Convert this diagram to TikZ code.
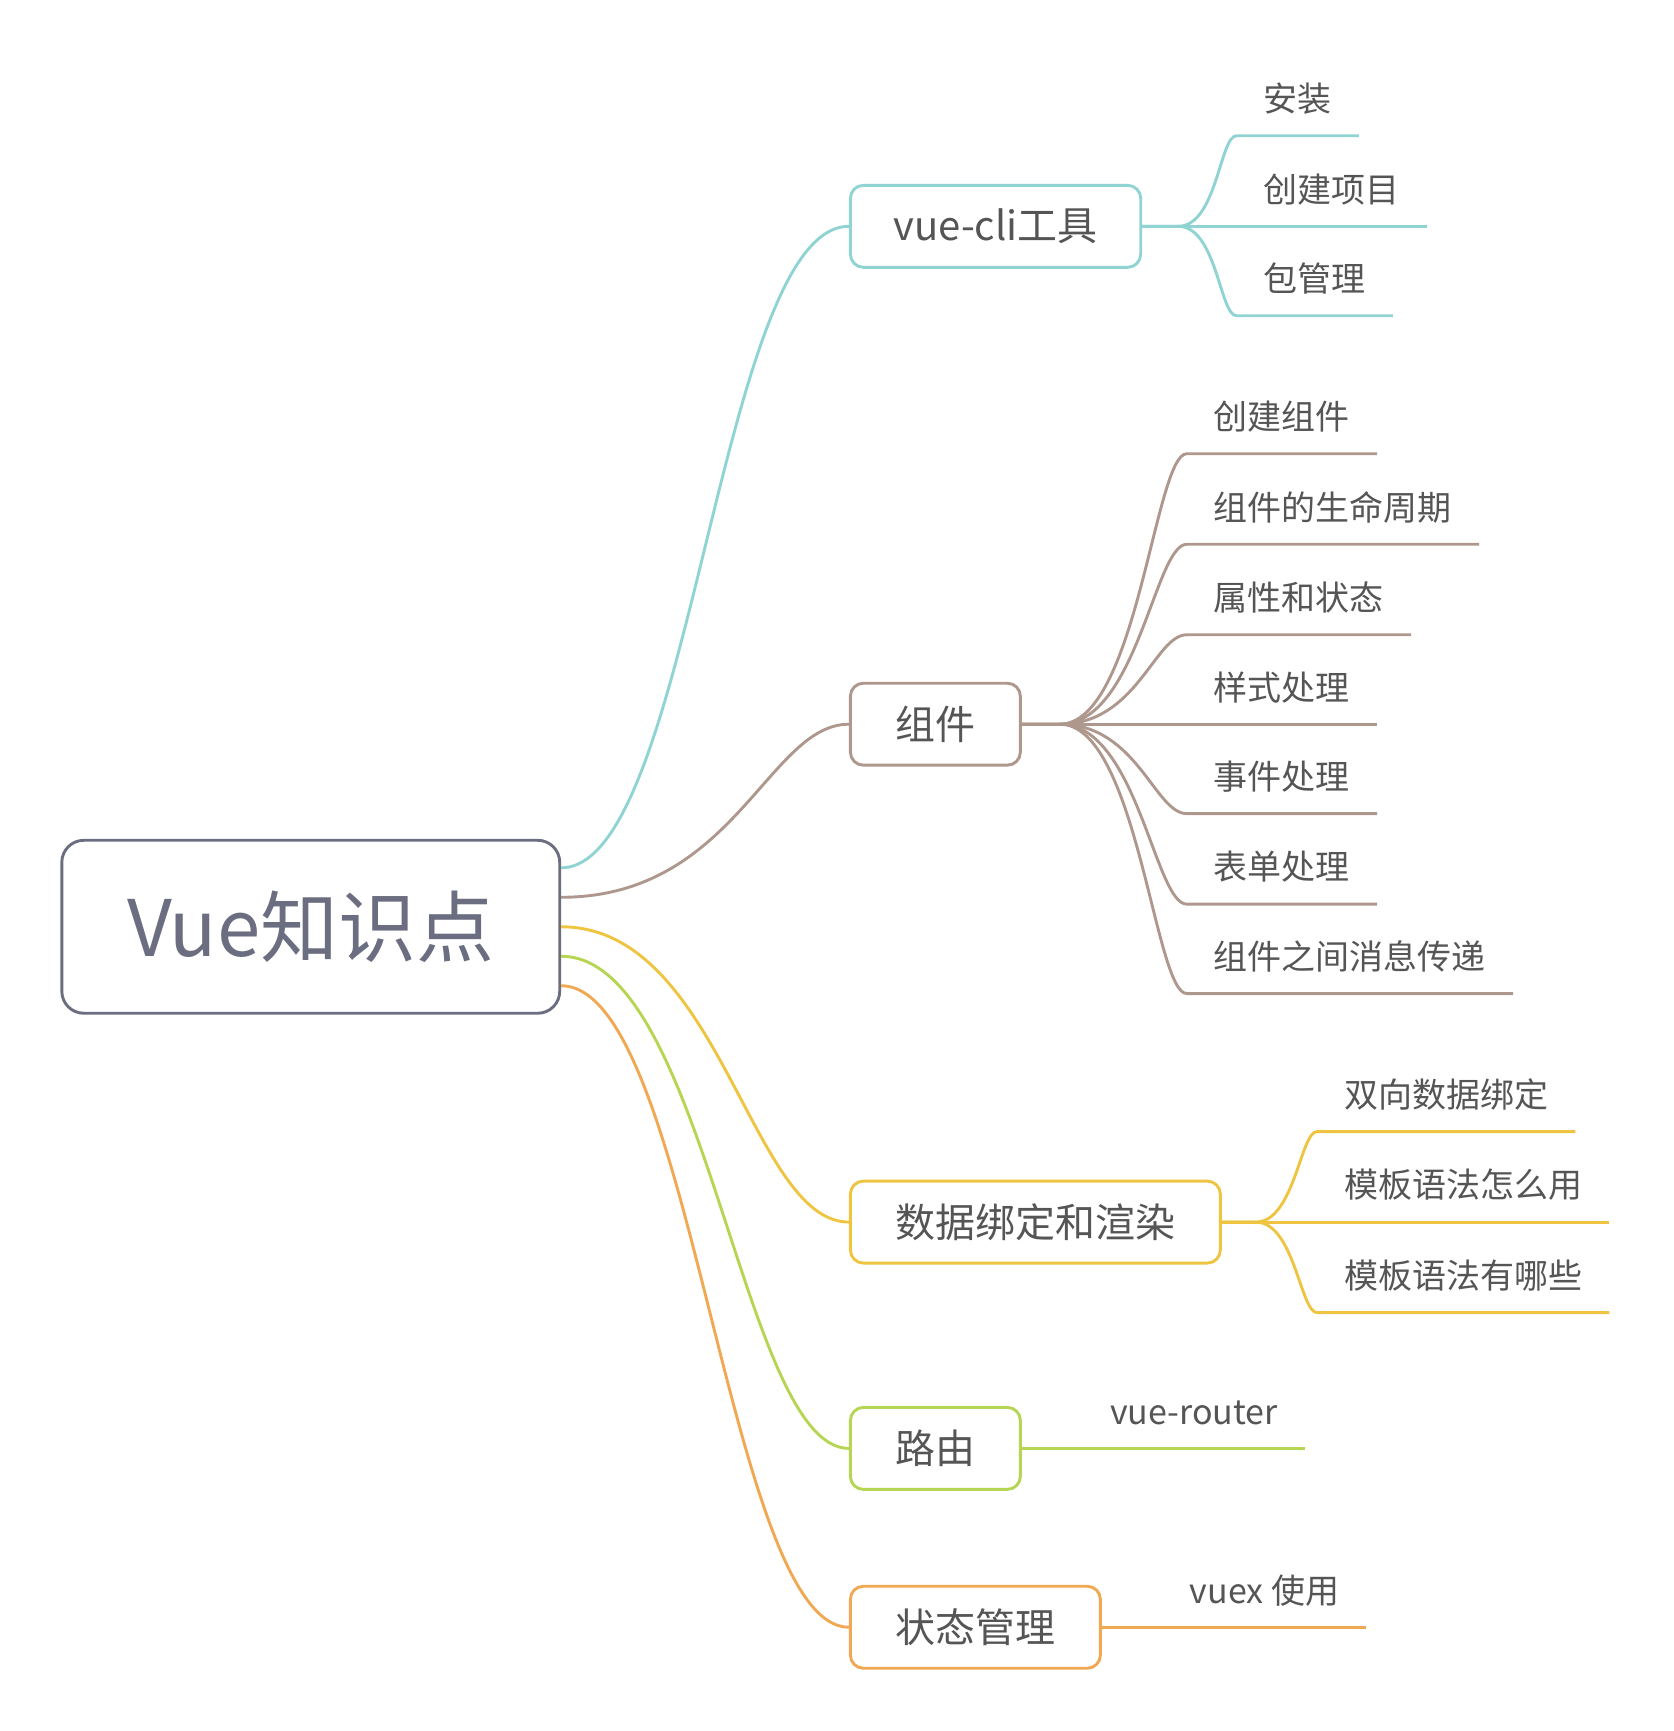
\documentclass[tikz,border=0pt]{standalone}
\usepackage{fontspec}
\setmainfont{Noto Sans CJK SC}
\usetikzlibrary{positioning}

\definecolor{rootgray}{HTML}{6B6E80}
\definecolor{txtgray}{HTML}{555555}
\definecolor{cyanline}{HTML}{8FD3D3}
\definecolor{brownline}{HTML}{AE978D}
\definecolor{yellowline}{HTML}{EEC441}
\definecolor{greenline}{HTML}{B5D553}
\definecolor{orangeline}{HTML}{F0A853}

\tikzset{
  rootbox/.style={draw=rootgray, line width=2.9pt, rounded corners=22pt,
    minimum width=498pt, minimum height=173pt, text=rootgray,
    font=\fontsize{78}{90}\selectfont},
  topic/.style={draw=#1, line width=2.9pt, rounded corners=13pt, fill=white,
    inner xsep=43pt, inner ysep=0pt, minimum height=82pt, text=txtgray,
    font=\fontsize{40}{48}\selectfont},
  leaf/.style={anchor=south west, inner xsep=27pt, inner ysep=0pt,
    text height=30pt, text depth=24pt, text=txtgray,
    font=\fontsize{34}{40}\selectfont},
  link/.style={draw=#1, line width=2.9pt},
}

\begin{document}
\begin{tikzpicture}[x=1.1042pt,y=-1.1042pt]

\useasboundingbox (0,0) rectangle (1516,1568);

% centre
\node[rootbox] (root) at (281.5,839.5) {Vue知识点};

% main topics
\node[topic=cyanline, anchor=west] (cli) at (769,205) {vue-cli工具};
\node[topic=brownline, anchor=west, minimum width=170pt] (comp) at (769,656) {组件};
\node[topic=yellowline, anchor=west, minimum width=370pt] (bind) at (769,1107) {数据绑定和渲染};
\node[topic=greenline, anchor=west, minimum width=170pt] (route) at (769,1312) {路由};
\node[topic=orangeline, anchor=west, minimum width=250pt] (state) at (769,1474) {状态管理};

\coordinate (clifork) at ([xshift=36pt]cli.east);
\coordinate (compfork) at ([xshift=38pt]comp.east);
\coordinate (bindfork) at ([xshift=34pt]bind.east);

% subtopics
\node[leaf] (install) at (1120,123) {安装};
\node[leaf] (newproj) at (1120,205) {创建项目};
\node[leaf] (pkg) at (1120,286) {包管理};

\node[leaf] (mkcomp) at (1075,411) {创建组件};
\node[leaf] (life) at (1075,493) {组件的生命周期};
\node[leaf] (props) at (1075,575) {属性和状态};
\node[leaf] (styles) at (1075,656) {样式处理};
\node[leaf] (events) at (1075,737) {事件处理};
\node[leaf] (forms) at (1075,819) {表单处理};
\node[leaf] (msgs) at (1075,900) {组件之间消息传递};

\node[leaf] (twoway) at (1193,1025) {双向数据绑定};
\node[leaf] (tplhow) at (1193,1107) {模板语法怎么用};
\node[leaf] (tplwhat) at (1193,1189) {模板语法有哪些};

\node[leaf] (router) at (981,1312) {vue-router};
\node[leaf] (vuex) at (1053,1474) {vuex 使用};

% centre to topics
\draw[link=cyanline] ([yshift=59pt]root.east) .. controls +(118,0) and +(-118,0) .. (cli.west);
\draw[link=brownline] ([yshift=29.5pt]root.east) .. controls +(157,0) and +(-73,0) .. (comp.west);
\draw[link=yellowline] (root.east) .. controls +(144,0) and +(-89,0) .. (bind.west);
\draw[link=greenline] ([yshift=-29.5pt]root.east) .. controls +(131,0) and +(-97,0) .. (route.west);
\draw[link=orangeline] ([yshift=-59pt]root.east) .. controls +(118,0) and +(-110,0) .. (state.west);

% topics to subtopics
\draw[link=cyanline] (cli.east) -- (clifork) .. controls +(35,0) and +(-15,0) .. (install.south west) -- (install.south east);
\draw[link=cyanline] (cli.east) -- (clifork) -- (newproj.south west) -- (newproj.south east);
\draw[link=cyanline] (cli.east) -- (clifork) .. controls +(35,0) and +(-15,0) .. (pkg.south west) -- (pkg.south east);

\draw[link=brownline] (comp.east) -- (compfork) .. controls +(70,0) and +(-29,0) .. (mkcomp.south west) -- (mkcomp.south east);
\draw[link=brownline] (comp.east) -- (compfork) .. controls +(70,0) and +(-29,0) .. (life.south west) -- (life.south east);
\draw[link=brownline] (comp.east) -- (compfork) .. controls +(70,0) and +(-29,0) .. (props.south west) -- (props.south east);
\draw[link=brownline] (comp.east) -- (compfork) -- (styles.south west) -- (styles.south east);
\draw[link=brownline] (comp.east) -- (compfork) .. controls +(70,0) and +(-29,0) .. (events.south west) -- (events.south east);
\draw[link=brownline] (comp.east) -- (compfork) .. controls +(70,0) and +(-29,0) .. (forms.south west) -- (forms.south east);
\draw[link=brownline] (comp.east) -- (compfork) .. controls +(70,0) and +(-29,0) .. (msgs.south west) -- (msgs.south east);

\draw[link=yellowline] (bind.east) -- (bindfork) .. controls +(35,0) and +(-15,0) .. (twoway.south west) -- (twoway.south east);
\draw[link=yellowline] (bind.east) -- (bindfork) -- (tplhow.south west) -- (tplhow.south east);
\draw[link=yellowline] (bind.east) -- (bindfork) .. controls +(35,0) and +(-15,0) .. (tplwhat.south west) -- (tplwhat.south east);

\draw[link=greenline] (route.east) -- (router.south west) -- (router.south east);
\draw[link=orangeline] (state.east) -- (vuex.south west) -- (vuex.south east);

\end{tikzpicture}
\end{document}
